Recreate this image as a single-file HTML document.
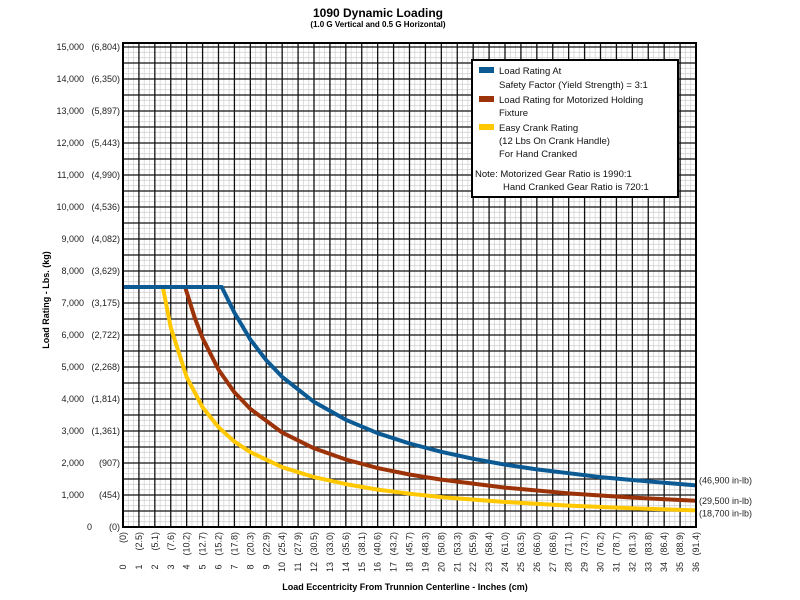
<!DOCTYPE html>
<html><head><meta charset="utf-8"><style>
body{margin:0;background:#fff;}
svg{display:block;font-family:"Liberation Sans",Arial,sans-serif;}
</style></head><body>
<svg id="chart" width="800" height="600" viewBox="0 0 800 600" xmlns="http://www.w3.org/2000/svg">
<text x="378" y="17" text-anchor="middle" font-size="12" font-weight="bold">1090 Dynamic Loading</text>
<text x="378" y="27" text-anchor="middle" font-size="8" font-weight="bold">(1.0 G Vertical and 0.5 G Horizontal)</text>
<g id="grid"></g>
<g id="series"></g>
<rect x="123" y="43" width="573" height="484" fill="none" stroke="#000" stroke-width="2"/>
<g id="yticks"></g>
<g id="xticks"></g>
<g id="endlabels"></g>
<text transform="translate(49,300) rotate(-90)" text-anchor="middle" font-size="9" font-weight="bold">Load Rating - Lbs. (kg)</text>
<text x="405" y="590" text-anchor="middle" font-size="9" font-weight="bold">Load Eccentricity From Trunnion Centerline - Inches (cm)</text>
<g>
<rect x="472" y="60" width="206" height="137" fill="#fff" stroke="#000" stroke-width="2"/>
<rect x="479" y="67" width="15" height="6" fill="#0b5a94"/>
<text font-size="9.5" fill="#111"><tspan x="499" y="74">Load Rating At</tspan><tspan x="499" y="88">Safety Factor (Yield Strength) = 3:1</tspan></text>
<rect x="479" y="96" width="15" height="6" fill="#9c3208"/>
<text font-size="9.5" fill="#111"><tspan x="499" y="103">Load Rating for Motorized Holding</tspan><tspan x="499" y="116">Fixture</tspan></text>
<rect x="479" y="124" width="15" height="6" fill="#ffc800"/>
<text font-size="9.5" fill="#111"><tspan x="499" y="131">Easy Crank Rating</tspan><tspan x="499" y="144">(12 Lbs On Crank Handle)</tspan><tspan x="499" y="157">For Hand Cranked</tspan></text>
<text font-size="9.5" fill="#111"><tspan x="475" y="177">Note: Motorized Gear Ratio is 1990:1</tspan><tspan x="503" y="190">Hand Cranked Gear Ratio is 720:1</tspan></text>
</g>
</svg>
<script>
const xTicks = [0,1,2,3,4,5,6,7,8,9,10,11,12,13,14,15,16,17,18,19,20,21,22,23,24,25,26,27,28,29,30,31,32,33,34,35,36];
const xTicksCm = ["0","2.5","5.1","7.6","10.2","12.7","15.2","17.8","20.3","22.9","25.4","27.9","30.5","33.0","35.6","38.1","40.6","43.2","45.7","48.3","50.8","53.3","55.9","58.4","61.0","63.5","66.0","68.6","71.1","73.7","76.2","78.7","81.3","83.8","86.4","88.9","91.4"];
const yTicks = [0,1000,2000,3000,4000,5000,6000,7000,8000,9000,10000,11000,12000,13000,14000,15000];
const yTicksKg = ["0","454","907","1,361","1,814","2,268","2,722","3,175","3,629","4,082","4,536","4,990","5,443","5,897","6,350","6,804"];
const blueX = [0,6.2,7,8,9,10,12,14,16,18,20,22,24,26,28,30,32,34,36];
const blueY = [7500,7500,6700,5860,5210,4690,3910,3350,2930,2610,2350,2130,1950,1800,1680,1560,1470,1380,1300];
const brownX = [3.9,4.5,5,6,7,8,10,12,14,16,18,20,24,28,32,36];
const brownY = [7500,6550,5900,4920,4210,3690,2950,2460,2110,1840,1640,1480,1230,1050,920,820];
const yellowX = [2.5,3,4,5,6,7,8,10,12,14,16,18,20,24,28,32,36];
const yellowY = [7500,6230,4680,3740,3120,2670,2340,1870,1560,1340,1170,1040,935,780,670,585,520];
const endLabels = ["(46,900 in-lb)","(29,500 in-lb)","(18,700 in-lb)"];

const NS="http://www.w3.org/2000/svg";
const X0=123,X1=696,Y0=527,YTOP=43;
const xs=v=>X0+(v/36)*(X1-X0);
const ys=v=>Y0-v*0.032;
function mk(tag,attrs,parent){const e=document.createElementNS(NS,tag);for(const k in attrs)e.setAttribute(k,attrs[k]);parent.appendChild(e);return e;}
const grid=document.getElementById('grid');
for(let i=0;i<=108;i++){const x=xs(i/3);if(i%3)
{const l=mk('line',{x1:x,x2:x,y1:YTOP,y2:Y0,stroke:'#d4d4d4','stroke-width':0.8},grid);

}}
for(let k=0;k<=93;k++){const v=k*500/3;const y=ys(v);if(y<YTOP)break;if(k%3)
{const l=mk('line',{x1:X0,x2:X1,y1:y,y2:y,stroke:'#d4d4d4','stroke-width':0.8},grid);

}}
for(let i=0;i<=36;i++){const x=xs(i);
const l=mk('line',{x1:x,x2:x,y1:YTOP,y2:Y0,stroke:'#111','stroke-width':1.3},grid);

}
for(let v=0;v<=15250;v+=500){const y=ys(v);if(y<YTOP)break;
const l=mk('line',{x1:X0,x2:X1,y1:y,y2:y,stroke:'#111','stroke-width':1.3},grid);

}

const series=document.getElementById('series');
function drawLine(xa,ya,color,name){
 const d=xa.map((x,i)=>(i?'L':'M')+xs(x).toFixed(1)+','+ys(ya[i]).toFixed(1)).join(' ');
 const p=mk('path',{d:d,fill:'none',stroke:color,'stroke-width':4,'stroke-linejoin':'round'},series);
 
 
}
drawLine(yellowX,yellowY,'#ffc800','series-easy-crank');
drawLine(brownX,brownY,'#9c3208','series-motorized');
drawLine(blueX,blueY,'#0b5a94','series-safety-factor');

const yt=document.getElementById('yticks');
yTicks.forEach((v,i)=>{const y=ys(v)+3;
 const a=mk('text',{x:v===0?92:84,y:y,'text-anchor':'end','font-size':9,fill:'#222'},yt);a.textContent=v===0?'0':v.toLocaleString('en-US');
 
 
 const b=mk('text',{x:120,y:y,'text-anchor':'end','font-size':9,fill:'#222'},yt);b.textContent='('+yTicksKg[i]+')';
 
 
});
const xt=document.getElementById('xticks');
xTicks.forEach((v,i)=>{const x=xs(v)+3;
 const a=mk('text',{transform:`translate(${x},567) rotate(-90)`,'text-anchor':'middle','font-size':9,fill:'#222'},xt);a.textContent=v;
 
 
 const b=mk('text',{transform:`translate(${x},532) rotate(-90)`,'text-anchor':'end','font-size':9,fill:'#222'},xt);b.textContent='('+xTicksCm[i]+')';
 
 
});
const el=document.getElementById('endlabels');
const ends=[blueY[blueY.length-1],brownY[brownY.length-1],yellowY[yellowY.length-1]];
const offs=[-2,3,6];
endLabels.forEach((t,i)=>{const e=mk('text',{x:699,y:ys(ends[i])+offs[i],'font-size':9,fill:'#222'},el);e.textContent=t;
 
 });
</script>
</body></html>
